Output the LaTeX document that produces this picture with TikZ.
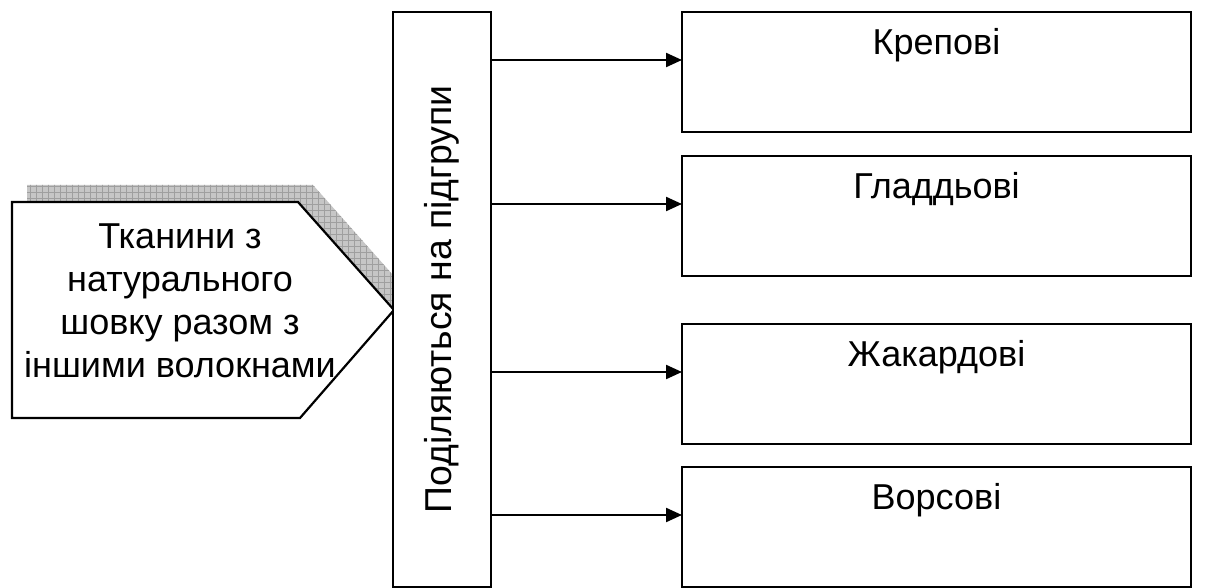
\documentclass[tikz,border=0pt]{standalone}
\usepackage{fontspec}
\setmainfont{Liberation Sans}
\usetikzlibrary{arrows.meta,patterns}
\begin{document}
\begin{tikzpicture}[x=0.5pt,y=-0.5pt,
  every node/.style={inner sep=0pt,outer sep=0pt},
  ln/.style={line width=1.1pt,draw=black},
  catbox/.style={ln,fill=white,minimum width=254.5pt,minimum height=60pt,anchor=north west},
  lbl/.style={font=\fontsize{18pt}{21.5pt}\selectfont,anchor=center},
  arr/.style={line width=1.1pt,-{Triangle[length=8pt,width=7pt]}}]
\useasboundingbox (0,0) rectangle (1212,588);
% shadow of the pentagon
\fill[gray!45] (27,185) -- (313,185) -- (409,293) -- (315,401) -- (27,401) -- cycle;
\fill[pattern=grid,pattern color=gray!75] (27,185) -- (313,185) -- (409,293) -- (315,401) -- (27,401) -- cycle;
% pentagon
\draw[ln,fill=white] (12,202) -- (298,202) -- (394,310) -- (300,418) -- (12,418) -- cycle;
\node[lbl,align=center] (src) at (180,301)
  {Тканини з\\натурального\\шовку разом з\\іншими волокнами};
% vertical box
\node[ln,fill=white,minimum width=49pt,minimum height=287.5pt,anchor=north west] (vb) at (393,12) {};
\node[lbl,rotate=90,font=\fontsize{18.7pt}{22pt}\selectfont] (vbt) at (vb.center) {Поділяються на підгрупи};
% category boxes
\node[catbox] (k1) at (682,12) {};
\node[catbox] (k2) at (682,156) {};
\node[catbox] (k3) at (682,324) {};
\node[catbox] (k4) at (682,467) {};
\node[lbl] (t1) at ([yshift=-16.5pt]k1.north) {Крепові};
\node[lbl] (t2) at ([yshift=-16.5pt]k2.north) {Гладдьові};
\node[lbl] (t3) at ([yshift=-16.5pt]k3.north) {Жакардові};
\node[lbl] (t4) at ([yshift=-16.5pt]k4.north) {Ворсові};
% arrows
\foreach \k in {k1,k2,k3,k4}
  \draw[arr] ([yshift=6pt]\k.west -| vb.east) -- ([yshift=6pt]\k.west);
\end{tikzpicture}
\end{document}
